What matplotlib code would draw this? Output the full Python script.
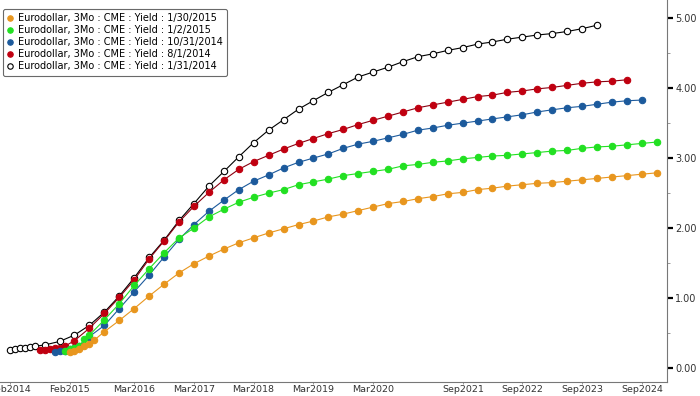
import matplotlib
matplotlib.use('Agg')
import matplotlib.pyplot as plt
from matplotlib.ticker import MultipleLocator, FormatStrFormatter
import pandas as pd

# contract months: a few monthly serials up front, then quarterly (Mar/Jun/Sep/Dec)
serial_jan14 = ['2014-02', '2014-03', '2014-04', '2014-05', '2014-06', '2014-07', '2014-09', '2014-12']
serial_aug14 = ['2014-08', '2014-09', '2014-10', '2014-11', '2014-12', '2015-01']
serial_oct14 = ['2014-11', '2014-12', '2015-01', '2015-02', '2015-03', '2015-04']
serial_jan15 = ['2015-01', '2015-02', '2015-03', '2015-04', '2015-05']
serial_feb15 = ['2015-02', '2015-03', '2015-04', '2015-05', '2015-06', '2015-07']

yield_1_31_2014 = [0.26, 0.27, 0.28, 0.29, 0.30, 0.31, 0.33, 0.38,
                   0.47, 0.61, 0.80, 1.03, 1.29, 1.58, 1.83, 2.11, 2.35, 2.60, 2.81, 3.02,
                   3.22, 3.40, 3.55, 3.70, 3.82, 3.94, 4.05, 4.16, 4.23, 4.30, 4.38, 4.45,
                   4.49, 4.54, 4.58, 4.63, 4.66, 4.70, 4.73, 4.76, 4.78, 4.81, 4.85, 4.90]
yield_8_1_2014 = [0.26, 0.26, 0.27, 0.28, 0.29, 0.31,
                  0.39, 0.57, 0.78, 1.01, 1.26, 1.56, 1.82, 2.09, 2.31, 2.51, 2.69, 2.84,
                  2.95, 3.04, 3.13, 3.21, 3.28, 3.35, 3.41, 3.48, 3.54, 3.60, 3.66, 3.72,
                  3.76, 3.80, 3.84, 3.88, 3.90, 3.94, 3.96, 3.99, 4.01, 4.04, 4.07, 4.09,
                  4.10, 4.12]
yield_10_31_2014 = [0.23, 0.24, 0.25, 0.27, 0.29, 0.31,
                    0.45, 0.61, 0.85, 1.09, 1.33, 1.59, 1.84, 2.05, 2.24, 2.40, 2.55,
                    2.67, 2.76, 2.86, 2.94, 3.00, 3.06, 3.14, 3.20, 3.24, 3.29, 3.34, 3.40,
                    3.43, 3.47, 3.50, 3.53, 3.56, 3.59, 3.62, 3.66, 3.69, 3.72, 3.74, 3.77,
                    3.80, 3.82, 3.83]
yield_1_2_2015 = [0.25, 0.27, 0.29, 0.32, 0.41,
                  0.47, 0.69, 0.92, 1.18, 1.42, 1.65, 1.86, 2.00, 2.16, 2.27, 2.37,
                  2.44, 2.50, 2.55, 2.62, 2.66, 2.70, 2.75, 2.78, 2.81, 2.84, 2.89, 2.91,
                  2.94, 2.96, 2.99, 3.01, 3.03, 3.04, 3.06, 3.08, 3.10, 3.11, 3.14, 3.16,
                  3.17, 3.19, 3.21, 3.23]
yield_1_30_2015 = [0.23, 0.25, 0.27, 0.31, 0.35, 0.40,
                   0.52, 0.68, 0.85, 1.03, 1.20, 1.36, 1.49, 1.60, 1.70, 1.79, 1.86,
                   1.93, 1.99, 2.05, 2.10, 2.16, 2.20, 2.25, 2.30, 2.35, 2.38, 2.42, 2.45,
                   2.49, 2.51, 2.55, 2.57, 2.60, 2.62, 2.64, 2.65, 2.67, 2.69, 2.71, 2.73,
                   2.75, 2.77, 2.79]

tick_dates = ['2014-02', '2015-02', '2016-03', '2017-03', '2018-03', '2019-03',
              '2020-03', '2021-09', '2022-09', '2023-09', '2024-09']
tick_labels = ['Feb2014', 'Feb2015', 'Mar2016', 'Mar2017', 'Mar2018', 'Mar2019',
               'Mar2020', 'Sep2021', 'Sep2022', 'Sep2023', 'Sep2024']


def contract_dates(serials, first_quarter, n_values):
    quarters = pd.date_range(first_quarter, periods=n_values - len(serials), freq='QS-MAR')
    return list(pd.to_datetime(serials)) + list(quarters)


series = [
    ('Eurodollar, 3Mo : CME : Yield : 1/30/2015', serial_feb15, '2015-09', yield_1_30_2015, '#e8961e', '#e8961e', '#e8961e'),
    ('Eurodollar, 3Mo : CME : Yield : 1/2/2015', serial_jan15, '2015-06', yield_1_2_2015, '#22e022', '#22e022', '#22e022'),
    ('Eurodollar, 3Mo : CME : Yield : 10/31/2014', serial_oct14, '2015-06', yield_10_31_2014, '#1c5a9c', '#1c5a9c', '#1c5a9c'),
    ('Eurodollar, 3Mo : CME : Yield : 8/1/2014', serial_aug14, '2015-03', yield_8_1_2014, '#c00010', '#c00010', '#8a0010'),
    ('Eurodollar, 3Mo : CME : Yield : 1/31/2014', serial_jan14, '2015-03', yield_1_31_2014, 'white', 'black', 'black'),
]

fig = plt.figure(figsize=(7, 3.96), dpi=100)
ax = fig.add_axes([0, 14 / 396, 667 / 700, 382 / 396])

# draw oldest curve first so the newer ones sit on top, legend keeps the original order
handles = []
for label, serials, first_q, vals, face, edge, line_c in reversed(series):
    x = contract_dates(serials, first_q, len(vals))
    h, = ax.plot(x, vals, color=line_c, lw=0.8, marker='o', ms=4.6,
                 mfc=face, mec=edge, mew=0.8, label=label)
    handles.append(h)
handles = handles[::-1]

ax.set_xlim(pd.Timestamp('2013-12-01'), pd.Timestamp('2025-02-01'))
ax.set_ylim(-0.2, 5.26)

ax.yaxis.tick_right()
ax.yaxis.set_major_locator(MultipleLocator(1))
ax.yaxis.set_minor_locator(MultipleLocator(0.5))
ax.yaxis.set_major_formatter(FormatStrFormatter('%.2f'))
ax.tick_params(axis='y', which='major', direction='out', length=4, width=1.6,
               color='black', labelsize=7, labelcolor='#333333', pad=2)
ax.tick_params(axis='y', which='minor', direction='out', length=2, width=0.6, color='#888888')

ax.set_xticks(pd.to_datetime(tick_dates))
ax.set_xticklabels(tick_labels)
ax.tick_params(axis='x', direction='out', length=1.5, width=0.6, color='#888888',
               labelsize=6.8, labelcolor='#333333', pad=0.5)

for s in ['top', 'left']:
    ax.spines[s].set_visible(False)
ax.spines['right'].set_color('#777777')
ax.spines['bottom'].set_color('#777777')
ax.spines['right'].set_linewidth(0.8)
ax.spines['bottom'].set_linewidth(0.8)

leg = ax.legend(handles=handles, loc='upper left', bbox_to_anchor=(3 / 700, 1 - 9 / 396),
                bbox_transform=fig.transFigure, fontsize=7, frameon=True, fancybox=True,
                borderpad=0.45, labelspacing=0.2, handlelength=0.6, handletextpad=0.5,
                markerscale=0.85, borderaxespad=0)
for h in leg.get_lines():
    h.set_linestyle('none')
leg.get_frame().set_edgecolor('#444444')
leg.get_frame().set_linewidth(0.8)

plt.savefig('out.png', dpi=100)
